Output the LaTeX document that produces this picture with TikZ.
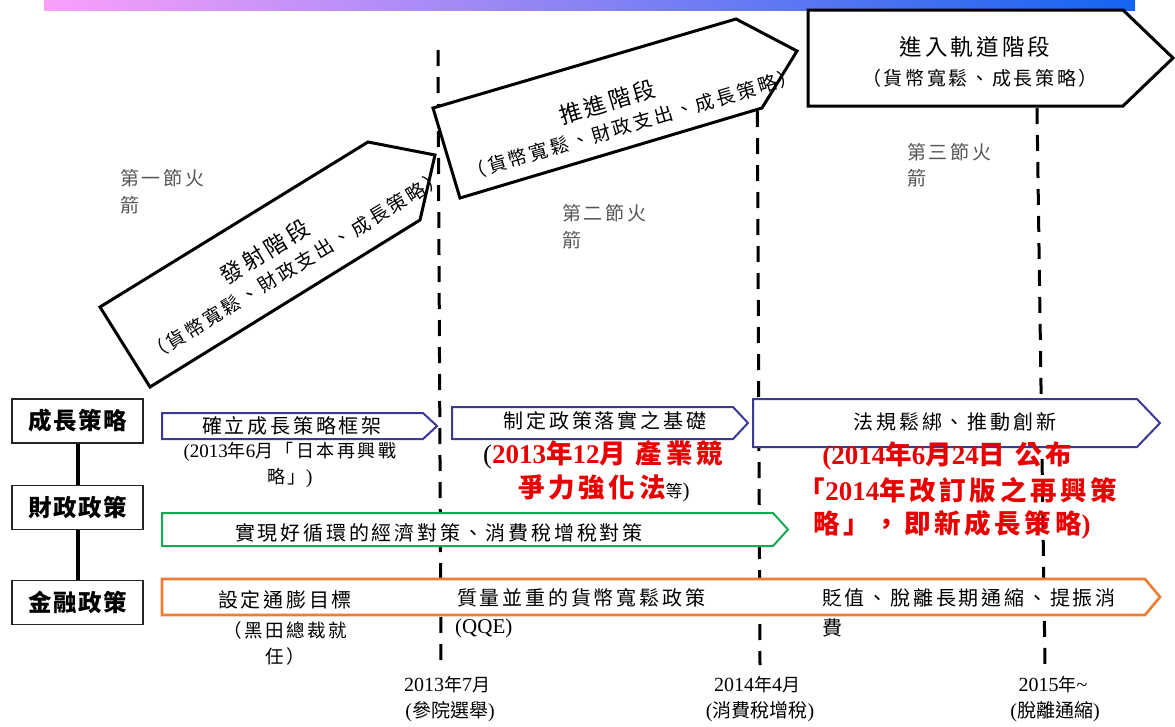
\documentclass[tikz,border=0pt]{standalone}
\usepackage{fontspec}
\setmainfont{Liberation Serif}
\newfontfamily\cjka[LetterSpace=14]{Noto Sans CJK TC}
\newfontfamily\cjkb[LetterSpace=7]{Noto Sans CJK TC}
\newfontfamily\cjkn{Noto Sans CJK TC}
\newcommand\fsz[1]{\fontsize{#1}{#1}\selectfont}
\definecolor{navy}{RGB}{58,58,150}
\definecolor{pgreen}{RGB}{20,170,80}
\definecolor{porange}{RGB}{237,125,49}
\definecolor{pred}{RGB}{232,0,0}
\definecolor{rgray}{RGB}{85,85,85}
\definecolor{gpink}{RGB}{250,160,250}
\definecolor{gviolet}{RGB}{180,125,240}
\definecolor{gblue}{RGB}{20,100,240}
\tikzset{
 vdash/.style={line width=3pt, dash pattern=on 16pt off 11pt},
 phase/.style={draw=black, line width=3pt, fill=white, line join=miter},
 navyarr/.style={draw=navy, line width=2pt, fill=white},
 greenarr/.style={draw=pgreen, line width=2pt, fill=white},
 orangearr/.style={draw=porange, line width=2.6pt, fill=white},
 lbox/.style={draw=black!85, line width=1.3pt, minimum width=131pt, minimum height=44pt, inner sep=0pt, font=\cjkb\bfseries\fsz{23.5}},
 conn/.style={line width=4pt},
 rowtxt/.style={inner sep=0pt, font=\cjka\fsz{20}},
 notetxt/.style={inner sep=0pt, font=\fsz{19}},
 redtxt/.style={inner sep=0pt, text=pred, font=\bfseries\fsz{27}},
 stagetxt/.style={inner sep=0pt, anchor=west, text=rgray, font=\cjka\fsz{19}},
 phtxt/.style={inner sep=0pt, align=center, font=\cjka\fontsize{19}{27}\selectfont},
 datetxt/.style={inner sep=0pt, font=\fsz{20}},
}
\newcommand\ttl[1]{{\fontsize{22.5}{27}\selectfont #1}}
\begin{document}
\begin{tikzpicture}[x=1pt,y=-1pt]
\useasboundingbox (0,0) rectangle (1175,726);
% top gradient bar
\fill[left color=gpink, middle color=gviolet, right color=gblue] (44,0) rectangle (1135,10);
% dashed time lines
\draw[vdash] (438,50) coordinate (l1t) -- (441,665) coordinate (l1b);
\draw[vdash] (757,30) coordinate (l2t) -- (760,665) coordinate (l2b);
\draw[vdash] (1037,108) coordinate (l3t) -- (1045,665) coordinate (l3b);
% phase arrows
\draw[phase] (100,307) -- (368,142) -- (435,155) -- (420,220) -- (150,387) -- cycle;
\draw[phase] (433,108) -- (736,19) -- (797,51) -- (762,108) -- (460,198) -- cycle;
\draw[phase] (808,10) -- (1123,10) -- (1173,58) -- (1123,106) -- (808,106) -- cycle;
\node[phtxt, rotate=31.6] (p1) at (288,253) {\ttl{發射階段}\hspace*{39pt}\\（貨幣寬鬆、財政支出、成長策略）};
\node[phtxt, rotate=16.5] (p2) at (628,110) {\ttl{推進階段}\hspace*{35pt}\\（貨幣寬鬆、財政支出、成長策略）};
\node[phtxt, font=\cjka\fontsize{19}{30}\selectfont] (p3) at (980,62) {\ttl{進入軌道階段}\hspace*{10pt}\\（貨幣寬鬆、成長策略）};
% stage labels
\node[stagetxt] (s1a) at (120,178) {第一節火};
\node[stagetxt] (s1b) at (120,205) {箭};
\node[stagetxt] (s2a) at (562,213) {第二節火};
\node[stagetxt] (s2b) at (562,240) {箭};
\node[stagetxt] (s3a) at (907,152) {第三節火};
\node[stagetxt] (s3b) at (907,178) {箭};
% left category boxes
\node[lbox] (cz) at (77.5,421) {成長策略};
\node[lbox] (cs) at (77.5,507.5) {財政政策};
\node[lbox] (jr) at (77.5,602.5) {金融政策};
\draw[conn] (cz) -- (cs);
\draw[conn] (cs) -- (jr);
% row arrows
\draw[navyarr] (162,413) -- (423,413) -- (437,426) -- (423,439) -- (162,439) -- cycle;
\draw[navyarr] (452,407) -- (733,407) -- (748,423) -- (733,439) -- (452,439) -- cycle;
\draw[navyarr] (753,399) -- (1137,399) -- (1160,423) -- (1137,447) -- (753,447) -- cycle;
\draw[greenarr] (162,513) -- (773,513) -- (788,529.5) -- (773,546) -- (162,546) -- cycle;
\draw[orangearr] (162,579) -- (1145,579) -- (1160,597) -- (1145,615) -- (162,615) -- cycle;
% row texts
\node[rowtxt] (a1t) at (292,426) {確立成長策略框架};
\node[notetxt] (a1n) at (290,452) {(2013{\cjka\fsz{18}年}6{\cjka\fsz{18}月「日本再興戰}};
\node[notetxt] (a1m) at (290,478) {{\cjka\fsz{18}略」}{\fsz{20})}};
\node[rowtxt] (a2t) at (605,421) {制定政策落實之基礎};
\node[redtxt] (a2r) at (603,455) {{\color{black}\mdseries(}2013{\cjka\fsz{26.5}年}12{\cjka\fsz{26.5}月 產業競}};
\node[redtxt] (a2s) at (604,488) {{\cjka\fsz{26.5}爭力強化法}{\color{black}\mdseries{\cjkn\fsz{17}等}\fsz{21})}};
\node[rowtxt] (a3t) at (955,422) {法規鬆綁、推動創新};
\node[redtxt] (a3r) at (947,456) {(2014{\cjka\fsz{26.5}年}6{\cjka\fsz{26.5}月}24{\cjka\fsz{26.5}日 公布}};
\node[redtxt] (a3s) at (958,490) {{\cjka\fsz{26.5}「}2014{\cjka\fsz{26.5}年改訂版之再興策}};
\node[redtxt] (a3u) at (952,525) {{\cjka\fsz{26.5}略」，即新成長策略})};
\node[rowtxt] (gt) at (439,533) {實現好循環的經濟對策、消費稅增稅對策};
\node[rowtxt] (o1) at (285,600) {設定通膨目標};
\node[rowtxt, font=\cjka\fsz{18.5}] (o1b) at (285,630) {（黑田總裁就};
\node[rowtxt, font=\cjka\fsz{18.5}] (o1c) at (285,656) {任）};
\node[rowtxt, anchor=west] (o2) at (457,598) {質量並重的貨幣寬鬆政策};
\node[notetxt, anchor=west, font=\fsz{21}] (o2b) at (455,628) {(QQE)};
\node[rowtxt, anchor=west] (o3) at (822,598) {貶值、脫離長期通縮、提振消};
\node[rowtxt, anchor=west] (o3b) at (822,628) {費};
% dates
\node[datetxt] (d1a) at (447,685) {2013{\cjkn\fsz{18}年}7{\cjkn\fsz{18}月}};
\node[datetxt] (d1b) at (450,712) {({\cjkn\fsz{19}參院選舉})};
\node[datetxt] (d2a) at (757,685) {2014{\cjkn\fsz{18}年}4{\cjkn\fsz{18}月}};
\node[datetxt] (d2b) at (760,712) {({\cjkn\fsz{19}消費稅增稅})};
\node[datetxt] (d3a) at (1053,685) {2015{\cjkn\fsz{18}年}\textasciitilde};
\node[datetxt] (d3b) at (1055,712) {({\cjkn\fsz{19}脫離通縮})};
\end{tikzpicture}
\end{document}
